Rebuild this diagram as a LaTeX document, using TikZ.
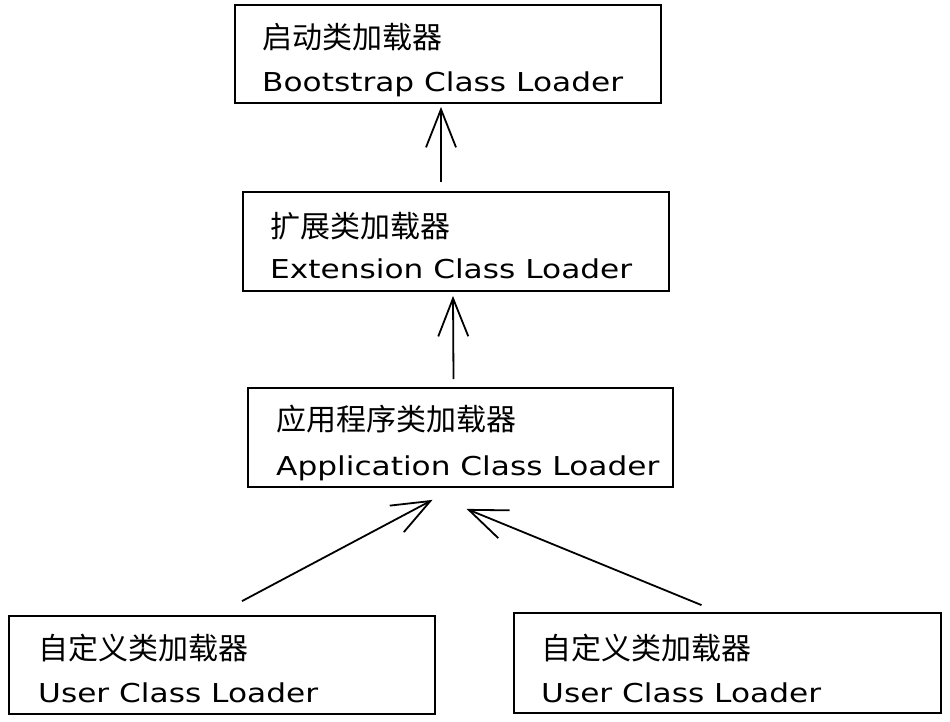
\documentclass[tikz,border=0pt]{standalone}
\usepackage{fontspec}
\setmainfont{DejaVu Sans}[FakeStretch=1.2]
\newfontfamily\cjk{Noto Sans CJK SC}
\usetikzlibrary{arrows.meta,calc}

\tikzset{
    loader/.style={draw=black, line width=1.8pt, inner sep=0pt},
    cntext/.style={font=\cjk\fontsize{30}{30}\selectfont, anchor=base west, inner sep=0pt},
    entext/.style={font=\fontsize{26}{26}\selectfont, anchor=base west, inner sep=0pt},
    parent/.style={draw=black, line width=1.8pt, -{Straight Barb[length=38pt, width=30pt, line width=1.8pt]}}
}

\begin{document}
\begin{tikzpicture}[x=1pt, y=-1pt]
            \useasboundingbox (0,0) rectangle (950,722);
            % loader boxes
            \node[loader, minimum width=426pt, minimum height=98pt]  (boot)  at (448.0, 54.0) {};
            \node[loader, minimum width=426pt, minimum height=99pt]  (ext)   at (456.0,241.5) {};
            \node[loader, minimum width=425pt, minimum height=99pt]  (app)   at (460.5,437.5) {};
            \node[loader, minimum width=426pt, minimum height=98pt]  (userA) at (222.0,665.0) {};
            \node[loader, minimum width=427pt, minimum height=100pt] (userB) at (727.5,663.0) {};
            % labels
            \node[cntext] (bootcn)  at (262,49)  {启动类加载器};
            \node[entext] (booten)  at (262,92)  {Bootstrap Class Loader};
            \node[cntext] (extcn)   at (270,237) {扩展类加载器};
            \node[entext] (exten)   at (270,278) {Extension Class Loader};
            \node[cntext] (appcn)   at (276,430) {应用程序类加载器};
            \node[entext] (appen)   at (276,475) {Application Class Loader};
            \node[cntext] (userAcn) at (38,659)  {自定义类加载器};
            \node[entext] (userAen) at (38,702)  {User Class Loader};
            \node[cntext] (userBcn) at (541,659) {自定义类加载器};
            \node[entext] (userBen) at (541,702) {User Class Loader};
            % delegation arrows
            \draw[parent] ($(ext.north)+(-15,-9)$)  -- ($(boot.south)+(-7,3)$);
            \draw[parent] ($(app.north)+(-7,-8)$)   -- ($(ext.south)+(-3,4)$);
            \draw[parent] ($(userA.north)+(20,-14)$) -- ($(app.south)+(-28,12)$);
            \draw[parent] ($(userB.north)+(-26,-7)$) -- ($(app.south)+(6,21)$);
\end{tikzpicture}
\end{document}
